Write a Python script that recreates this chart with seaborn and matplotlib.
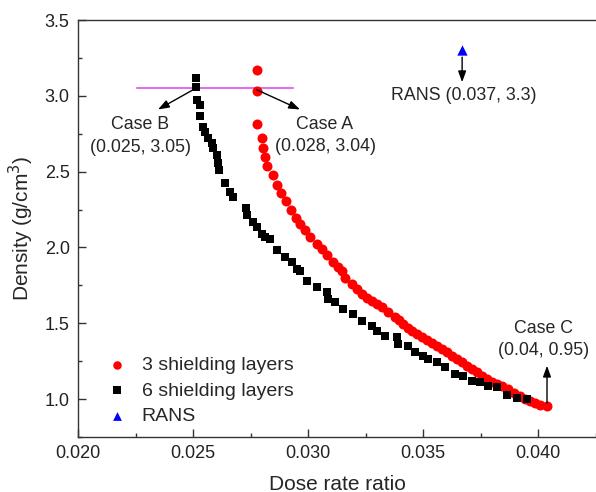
import matplotlib
matplotlib.use("Agg")
import matplotlib.pyplot as plt
from matplotlib.ticker import MultipleLocator
import seaborn as sns

# 3 shielding layers (red circles)
ratio_3 = [0.02777, 0.02777, 0.02777, 0.02799, 0.02804, 0.02813, 0.02822, 0.02848,
           0.02865, 0.02883, 0.02904, 0.02926, 0.02948, 0.02965, 0.02987, 0.03009,
           0.03039, 0.03061, 0.03083, 0.03109, 0.03130, 0.03148, 0.03161, 0.03191,
           0.03213, 0.03235, 0.03257, 0.03278, 0.03300, 0.03322, 0.03348, 0.03378,
           0.03396, 0.03413, 0.03435, 0.03452, 0.03474, 0.03496, 0.03517, 0.03539,
           0.03561, 0.03583, 0.03604, 0.03626, 0.03648, 0.03670, 0.03691, 0.03713,
           0.03735, 0.03757, 0.03778, 0.03800, 0.03822, 0.03843, 0.03870, 0.03896,
           0.03922, 0.03943, 0.03965, 0.03987, 0.04009, 0.04039]
density_3 = [3.171, 3.035, 2.816, 2.724, 2.658, 2.599, 2.539, 2.480,
             2.414, 2.362, 2.309, 2.250, 2.197, 2.158, 2.118, 2.072,
             2.020, 1.987, 1.947, 1.901, 1.868, 1.842, 1.796, 1.757,
             1.724, 1.691, 1.664, 1.645, 1.625, 1.605, 1.572, 1.539,
             1.520, 1.493, 1.467, 1.447, 1.428, 1.408, 1.388, 1.368,
             1.349, 1.329, 1.309, 1.283, 1.263, 1.243, 1.217, 1.197,
             1.178, 1.151, 1.132, 1.112, 1.099, 1.086, 1.066, 1.039,
             1.020, 1.000, 0.987, 0.974, 0.961, 0.954]

# 6 shielding layers (black squares)
ratio_6 = [0.02512, 0.02512, 0.02516, 0.02530, 0.02530, 0.02543, 0.02552, 0.02565,
           0.02583, 0.02587, 0.02604, 0.02609, 0.02613, 0.02639, 0.02661, 0.02674,
           0.02730, 0.02735, 0.02761, 0.02778, 0.02800, 0.02813, 0.02835, 0.02865,
           0.02900, 0.02930, 0.02952, 0.02965, 0.02996, 0.03039, 0.03083, 0.03087,
           0.03117, 0.03152, 0.03196, 0.03235, 0.03278, 0.03300, 0.03335, 0.03387,
           0.03391, 0.03435, 0.03465, 0.03500, 0.03522, 0.03561, 0.03596, 0.03639,
           0.03674, 0.03713, 0.03748, 0.03783, 0.03822, 0.03865, 0.03909, 0.03952]
density_6 = [3.120, 3.057, 2.974, 2.941, 2.868, 2.796, 2.763, 2.724,
             2.691, 2.658, 2.612, 2.559, 2.513, 2.428, 2.368, 2.336,
             2.263, 2.217, 2.171, 2.138, 2.092, 2.066, 2.053, 1.980,
             1.934, 1.901, 1.855, 1.842, 1.776, 1.737, 1.704, 1.658,
             1.638, 1.592, 1.559, 1.513, 1.480, 1.447, 1.414, 1.408,
             1.362, 1.349, 1.309, 1.283, 1.263, 1.243, 1.211, 1.164,
             1.151, 1.118, 1.112, 1.086, 1.079, 1.026, 1.007, 1.000]

# RANS reference point
ratio_rans = [0.0367]
density_rans = [3.30]

sns.set_theme(style="ticks")
plt.rcParams["font.family"] = ["Liberation Sans", "DejaVu Sans"]

fig = plt.figure(figsize=(5.96, 4.92), dpi=100)
ax = fig.add_axes([0.1309, 0.1118, 0.8691, 0.8475])

sns.scatterplot(x=ratio_3, y=density_3, ax=ax, color="#ff0000", marker="o",
                s=52, linewidth=0, label="3 shielding layers", zorder=3)
sns.scatterplot(x=ratio_6, y=density_6, ax=ax, color="black", marker="s",
                s=40, linewidth=0, label="6 shielding layers", zorder=3)
sns.scatterplot(x=ratio_rans, y=density_rans, ax=ax, color="#0000ff", marker="^",
                s=55, linewidth=0, label="RANS", zorder=3)

# horizontal reference line at the upper density
ax.plot([0.02257, 0.02935], [3.05, 3.05], color="#e070f0", lw=1.5, zorder=2)

arrow = dict(arrowstyle="-|>,head_length=0.55,head_width=0.2", color="black",
             lw=1.0, shrinkA=0, shrinkB=0)
ax.annotate("", xy=(0.02348, 2.91), xytext=(0.02512, 3.05), arrowprops=arrow)
ax.annotate("", xy=(0.02965, 2.91), xytext=(0.02777, 3.04), arrowprops=arrow)
ax.annotate("", xy=(0.0367, 3.09), xytext=(0.0367, 3.255), arrowprops=arrow)
ax.annotate("", xy=(0.04039, 1.22), xytext=(0.04039, 0.975), arrowprops=arrow)

txt = dict(ha="center", va="center", fontsize=12.8, linespacing=1.4)
ax.text(0.0227, 2.735, "Case B\n(0.025, 3.05)", **txt)
ax.text(0.03074, 2.74, "Case A\n(0.028, 3.04)", **txt)
ax.text(0.03675, 3.0, "RANS (0.037, 3.3)", **txt)
ax.text(0.04022, 1.395, "Case C\n(0.04, 0.95)", **txt)

ax.set_xlim(0.020, 0.04252)
ax.set_ylim(0.75, 3.5)
ax.xaxis.set_major_locator(MultipleLocator(0.005))
ax.xaxis.set_minor_locator(MultipleLocator(0.0025))
ax.yaxis.set_major_locator(MultipleLocator(0.5))
ax.yaxis.set_minor_locator(MultipleLocator(0.25))
ax.xaxis.set_major_formatter(plt.FormatStrFormatter("%.3f"))
ax.yaxis.set_major_formatter(plt.FormatStrFormatter("%.1f"))
ax.tick_params(which="both", direction="in", color="#333333", width=1.0,
               labelsize=13, labelcolor="#222222", pad=6)
ax.tick_params(which="major", length=6)
ax.tick_params(which="minor", length=3)
ax.tick_params(top=False, right=False)

for side in ["left", "bottom", "top"]:
    ax.spines[side].set_color("#333333")
    ax.spines[side].set_linewidth(1.0)
ax.spines["right"].set_visible(False)

ax.set_xlabel("Dose rate ratio", fontsize=15, labelpad=9)
ax.set_ylabel("Density (g/cm$^3$)", fontsize=15, labelpad=6)

ax.legend(loc="upper left", bbox_to_anchor=(0.003, 0.235), frameon=False,
          fontsize=14, labelspacing=0.4, handletextpad=0.3, markerscale=0.85)

fig.savefig("out.png", dpi=100)
